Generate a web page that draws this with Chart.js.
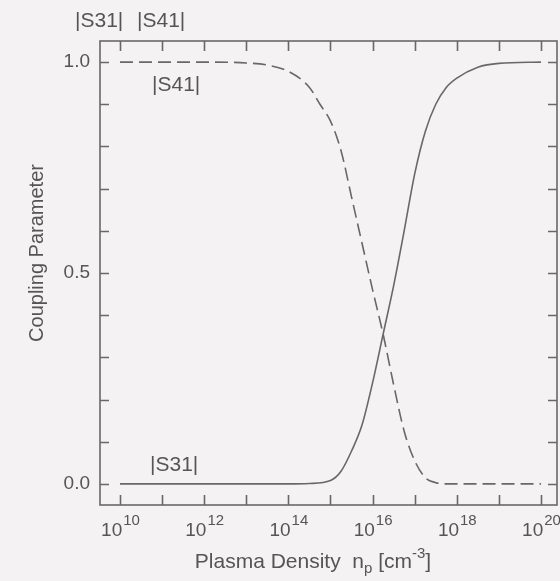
<!DOCTYPE html>
<html>
<head>
<meta charset="utf-8">
<script src="https://cdn.jsdelivr.net/npm/chart.js@4.4.1/dist/chart.umd.min.js"></script>
<style>
  html, body { margin: 0; padding: 0; background: #f4f2f2; }
  #wrap { width: 560px; height: 581px; }
</style>
</head>
<body>
<div id="wrap"><canvas id="coupling" width="560" height="581"></canvas></div>
<script>
// data: x is log10 of plasma density [cm^-3]
const s41Exp = [10, 11, 12, 13, 13.5, 14, 14.5, 14.75, 15, 15.25, 15.5, 15.75, 16, 16.25, 16.5, 16.75, 17, 17.25, 17.5, 17.75, 18, 19, 20];
const s41Val = [1.0, 1.0, 1.0, 0.998, 0.993, 0.978, 0.94, 0.90, 0.86, 0.79, 0.68, 0.57, 0.46, 0.355, 0.235, 0.125, 0.055, 0.015, 0.003, 0, 0, 0, 0];

const s31Exp = [10, 12, 14, 14.5, 15, 15.25, 15.5, 15.75, 16, 16.25, 16.5, 16.75, 17, 17.25, 17.5, 17.75, 18, 18.5, 19, 20];
const s31Val = [0, 0, 0, 0.001, 0.008, 0.03, 0.078, 0.14, 0.24, 0.355, 0.47, 0.6, 0.735, 0.835, 0.9, 0.94, 0.962, 0.988, 0.997, 1.0];

const xTickExp = [10, 11, 12, 13, 14, 15, 16, 17, 18, 19, 20];
const xLabelExp = [10, 12, 14, 16, 18, 20];
const yTicks = [0, 0.1, 0.2, 0.3, 0.4, 0.5, 0.6, 0.7, 0.8, 0.9, 1.0];
const yLabels = ['0.0', '0.5', '1.0'];

const ink = '#686868';
const txt = '#555555';
const FONT = '"Liberation Sans", Arial, sans-serif';

function toPoints(exps, vals) {
  return exps.map((e, i) => ({ x: Math.pow(10, e), y: vals[i] }));
}

const data = {
  datasets: [{
    label: '|S41|',
    data: toPoints(s41Exp, s41Val),
    borderColor: ink,
    borderWidth: 1.6,
    borderDash: [13, 6],
    pointRadius: 0,
    cubicInterpolationMode: 'monotone',
    showLine: true
  }, {
    label: '|S31|',
    data: toPoints(s31Exp, s31Val),
    borderColor: ink,
    borderWidth: 1.6,
    pointRadius: 0,
    cubicInterpolationMode: 'monotone',
    showLine: true
  }]
};

// frame, inward ticks and all the text
const framePlugin = {
  id: 'frame',
  afterDraw(chart) {
    const ctx = chart.ctx;
    const a = chart.chartArea;
    const xs = chart.scales.x, ys = chart.scales.y;
    ctx.save();
    ctx.strokeStyle = ink;
    ctx.lineWidth = 1.6;
    ctx.strokeRect(a.left, a.top, a.right - a.left, a.bottom - a.top);

    ctx.beginPath();
    xTickExp.forEach(e => {
      const px = Math.round(xs.getPixelForValue(Math.pow(10, e))) + 0.5;
      ctx.moveTo(px, a.bottom); ctx.lineTo(px, a.bottom - 10);
      ctx.moveTo(px, a.top); ctx.lineTo(px, a.top + 10);
    });
    yTicks.forEach(v => {
      const py = Math.round(ys.getPixelForValue(v)) + 0.5;
      ctx.moveTo(a.left, py); ctx.lineTo(a.left + 9, py);
      ctx.moveTo(a.right, py); ctx.lineTo(a.right - 9, py);
    });
    ctx.stroke();

    ctx.fillStyle = txt;
    // x tick labels 10^n
    ctx.textBaseline = 'alphabetic';
    ctx.textAlign = 'left';
    xLabelExp.forEach(e => {
      const px = xs.getPixelForValue(Math.pow(10, e));
      ctx.font = '19px ' + FONT;
      const wb = ctx.measureText('10').width;
      ctx.font = '15px ' + FONT;
      const we = ctx.measureText(String(e)).width;
      const x0 = px - (wb + we) / 2;
      ctx.font = '19px ' + FONT;
      ctx.fillText('10', x0, a.bottom + 31);
      ctx.font = '15px ' + FONT;
      ctx.fillText(String(e), x0 + wb + 1, a.bottom + 20);
    });

    // y tick labels
    ctx.font = '19px ' + FONT;
    ctx.textAlign = 'right';
    ctx.textBaseline = 'middle';
    yLabels.forEach(s => {
      ctx.fillText(s, a.left - 10, ys.getPixelForValue(parseFloat(s)));
    });

    // y title
    ctx.save();
    ctx.font = '20px ' + FONT;
    ctx.translate(37, 253);
    ctx.rotate(-Math.PI / 2);
    ctx.textAlign = 'center';
    ctx.fillText('Coupling Parameter', 0, 0);
    ctx.restore();

    // x title with subscript and superscript
    ctx.textAlign = 'left';
    ctx.textBaseline = 'alphabetic';
    const parts = [
      ['Plasma Density  n', 21, 0],
      ['p', 15, 5],
      [' [cm', 21, 0],
      ['-3', 15, -10],
      [']', 21, 0]
    ];
    let total = 0;
    parts.forEach(p => { ctx.font = p[1] + 'px ' + FONT; total += ctx.measureText(p[0]).width; });
    let cx = 313 - total / 2;
    parts.forEach(p => {
      ctx.font = p[1] + 'px ' + FONT;
      ctx.fillText(p[0], cx, 568 + p[2]);
      cx += ctx.measureText(p[0]).width;
    });

    // curve labels
    ctx.font = '21px ' + FONT;
    ctx.textBaseline = 'middle';
    ctx.fillText('|S31|', 75, 21);
    ctx.fillText('|S41|', 137, 21);
    ctx.fillText('|S41|', 152, 85);
    ctx.fillText('|S31|', 150, 465);
    ctx.restore();
  }
};

const config = {
  type: 'scatter',
  data,
  options: {
    responsive: false,
    animation: false,
    layout: { padding: { left: 100, top: 41, right: 3, bottom: 76 } },
    plugins: { legend: { display: false }, tooltip: { enabled: false } },
    scales: {
      x: { type: 'logarithmic', display: false, min: Math.pow(10, 9.525), max: Math.pow(10, 20.38) },
      y: { type: 'linear', display: false, min: -0.05, max: 1.05 }
    }
  },
  plugins: [framePlugin]
};

const myChart = new Chart(document.getElementById('coupling'), config);
</script>
</body>
</html>
